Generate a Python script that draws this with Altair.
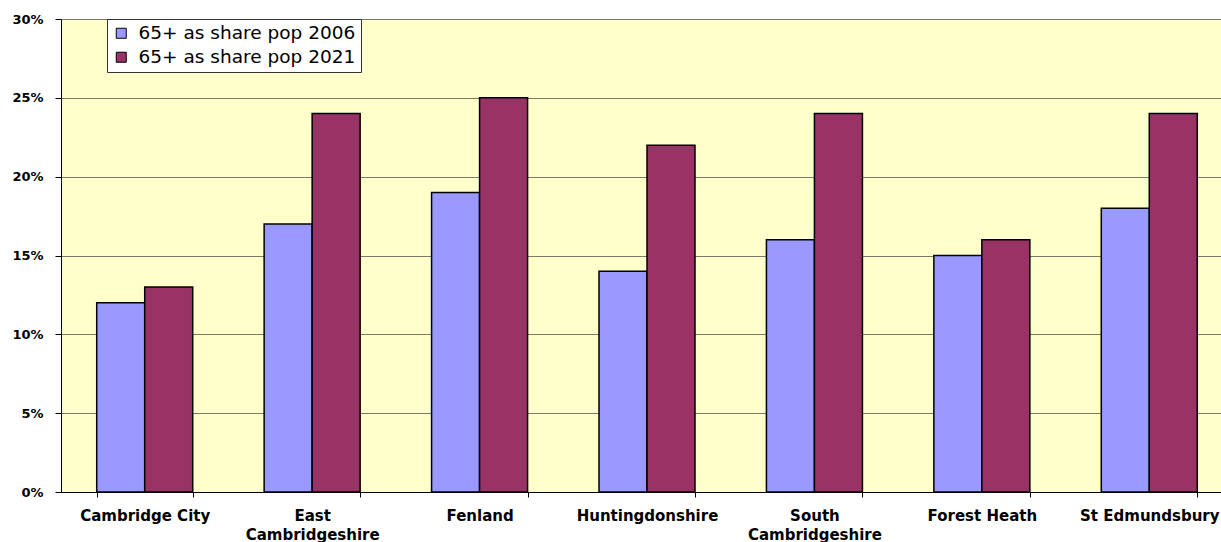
import altair as alt
import pandas as pd

# Districts and the share of population aged 65+ (percent)
districts = [
    "Cambridge City",
    "East Cambridgeshire",
    "Fenland",
    "Huntingdonshire",
    "South Cambridgeshire",
    "Forest Heath",
    "St Edmundsbury",
]
share_2006 = [12, 17, 19, 14, 16, 15, 18]
share_2021 = [13, 24, 25, 22, 24, 16, 24]
series_names = ["65+ as share pop 2006", "65+ as share pop 2021"]
series_colors = ["#9999FF", "#993366"]
y_ticks = [0, 5, 10, 15, 20, 25, 30]

rows = []
for d, a, b in zip(districts, share_2006, share_2021):
    rows.append({"district": d, "series": series_names[0], "share": a})
    rows.append({"district": d, "series": series_names[1], "share": b})
df = pd.DataFrame(rows)

FONT = "DejaVu Sans"
PLOT_W = 1160
BAND_RANGE = 1172  # category bands run slightly past the right edge
PLOT_H = 473

pad_inner = 1 - 96 / (BAND_RANGE / 7)

x_label_expr = (
    "indexof(['East Cambridgeshire','South Cambridgeshire'], datum.value) >= 0"
    " ? split(datum.value, ' ') : datum.value"
)

chart = (
    alt.Chart(df)
    .mark_bar(stroke="black", strokeWidth=1.5)
    .encode(
        x=alt.X(
            "district:N",
            sort=districts,
            title=None,
            scale=alt.Scale(
                range=[0, BAND_RANGE],
                paddingInner=pad_inner,
                paddingOuter=pad_inner / 2,
            ),
            axis=alt.Axis(
                labelAngle=0,
                labelExpr=x_label_expr,
                labelFont=FONT,
                labelFontWeight="bold",
                labelFontSize=15,
                labelColor="black",
                labelBaseline="top",
                labelLineHeight=19,
                labelPadding=11,
                labelOverlap=False,
                labelBound=False,
                tickBand="extent",
                tickSize=5,
                tickColor="black",
                domainColor="black",
                grid=False,
            ),
        ),
        xOffset=alt.XOffset(
            "series:N",
            sort=series_names,
            scale=alt.Scale(paddingInner=0, paddingOuter=0),
        ),
        y=alt.Y(
            "share:Q",
            title=None,
            scale=alt.Scale(domain=[0, 30], nice=False),
            axis=alt.Axis(
                values=y_ticks,
                labelExpr="datum.value + '%'",
                labelFont=FONT,
                labelFontWeight="bold",
                labelFontSize=13,
                labelColor="black",
                labelPadding=12,
                tickSize=6,
                tickColor="black",
                domainColor="black",
                gridColor="#7a7a6a",
                gridWidth=1,
            ),
        ),
        color=alt.Color(
            "series:N",
            sort=series_names,
            scale=alt.Scale(domain=series_names, range=series_colors),
            legend=alt.Legend(
                title=None,
                orient="none",
                legendX=46,
                legendY=0,
                fillColor="white",
                strokeColor="#333333",
                padding=5,
                rowPadding=5,
                symbolType="square",
                symbolSize=100,
                symbolStrokeColor="black",
                symbolStrokeWidth=1,
                symbolOpacity=1,
                labelFont=FONT,
                labelFontSize=18.5,
                labelColor="black",
                labelOffset=8,
                labelLimit=400,
            ),
        ),
    )
    .properties(
        width=PLOT_W,
        height=PLOT_H,
        autosize=alt.AutoSizeParams(type="none"),
        padding={"left": 61, "top": 19, "right": 0, "bottom": 50},
        background="white",
    )
    .configure_view(fill="#FFFFCC", stroke=None)
)

chart.save("out.html", embed_options={"renderer": "svg", "actions": False})
